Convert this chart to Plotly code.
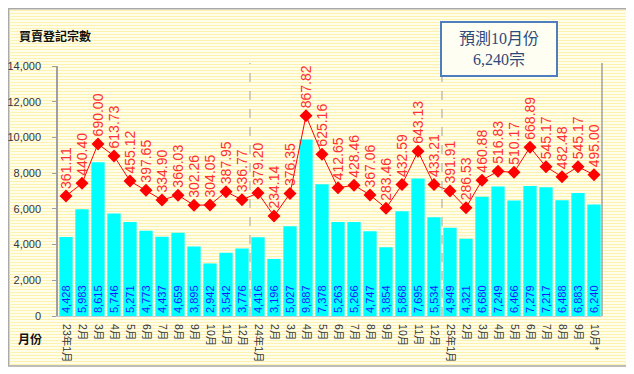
import plotly.graph_objects as go

months_2023 = ["23年1月", "2月", "3月", "4月", "5月", "6月", "7月", "8月", "9月", "10月", "11月", "12月"]
months_2024 = ["24年1月", "2月", "3月", "4月", "5月", "6月", "7月", "8月", "9月", "10月", "11月", "12月"]
months_2025 = ["25年1月", "2月", "3月", "4月", "5月", "6月", "7月", "8月", "9月", "10月*"]
tick_labels = months_2023 + months_2024 + months_2025

cases = [4428, 5983, 8615, 5746, 5271, 4773, 4437, 4659, 3895, 2942, 3542, 3776,
         4416, 3196, 5027, 9887, 7378, 5263, 5266, 4747, 3854, 5868, 7695, 5534,
         4949, 4321, 6680, 7249, 6466, 7279, 7217, 6488, 6883, 6240]
amounts = [361.11, 440.40, 690.00, 613.73, 455.12, 397.65, 334.90, 366.03, 302.26, 304.05, 387.95, 336.77,
           379.20, 234.14, 376.35, 867.82, 625.16, 412.65, 428.46, 367.06, 283.46, 432.59, 643.13, 433.21,
           391.91, 286.53, 460.88, 516.83, 510.17, 668.89, 545.17, 482.48, 545.17, 495.00]
y_ticks = [0, 2000, 4000, 6000, 8000, 10000, 12000, 14000]
year_breaks = [11.5, 23.5]

x = list(range(len(cases)))
SANS = "Liberation Sans, Arial, sans-serif"
CJK = "Liberation Sans, Noto Sans CJK TC, sans-serif"

fig = go.Figure()
fig.add_trace(go.Bar(
    x=x, y=cases, marker=dict(color="#00FFFF", line=dict(width=0)),
    texttemplate="%{y:,}", textposition="inside", insidetextanchor="start",
    textangle=-90, constraintext="none",
    textfont=dict(size=11, color="#1a1aff", family=SANS),
    hoverinfo="skip", showlegend=False,
))
fig.add_trace(go.Scatter(
    x=x, y=amounts, yaxis="y2", mode="lines+markers",
    line=dict(color="#FF0000", width=1),
    marker=dict(symbol="diamond", size=10, color="#FF0000"),
    hoverinfo="skip", showlegend=False,
))

# page has an 8px body margin: work in page pixels, convert to figure
OFF = 8
W, H = 626, 366
L, R, T, B = 58 - OFF, W - (602 - OFF), 66 - OFF, H - (316 - OFF)
pw, ph = W - L - R, H - T - B
def px_x(px):
    return (px - OFF - L) / pw
def px_y(py):
    return (H - B - (py - OFF)) / ph

shapes = []
shapes.append(dict(type="rect", xref="paper", yref="paper", layer="below",
                   x0=px_x(8.8), x1=px_x(628), y0=px_y(366), y1=px_y(8.8),
                   fillcolor="#FFFEEA", line=dict(color="#A8A8A8", width=1.5)))
py = 10
while py < 365:
    shapes.append(dict(type="line", xref="paper", yref="paper", layer="below",
                       x0=px_x(9.5), x1=px_x(627), y0=px_y(py + 0.5), y1=px_y(py + 0.5),
                       line=dict(color="#FFF2AE", width=1)))
    py += 3
for xb in year_breaks:
    shapes.append(dict(type="line", xref="x", yref="paper", x0=xb, x1=xb, y0=0, y1=1.012,
                       line=dict(color="#A0A0A0", width=1, dash="dash")))
shapes.append(dict(type="line", xref="paper", yref="paper", x0=1, x1=1, y0=0, y1=1.012,
                   line=dict(color="#A0A0A0", width=1.5)))

annotations = []
for xi, v in zip(x, amounts):
    annotations.append(dict(x=xi, y=v, xref="x", yref="y2", text=f"{v:.2f}",
                            textangle=-90, showarrow=False, yanchor="bottom", xanchor="center",
                            yshift=5, font=dict(size=14, color="#FF3030", family=SANS)))
annotations.append(dict(xref="paper", yref="paper", x=px_x(17), y=px_y(37), xanchor="left", yanchor="middle",
                        text="<b>買賣登記宗數</b>", showarrow=False,
                        font=dict(size=12, color="#111111", family=CJK)))
annotations.append(dict(xref="paper", yref="paper", x=px_x(16), y=px_y(340), xanchor="left", yanchor="middle",
                        text="<b>月份</b>", showarrow=False,
                        font=dict(size=12, color="#111111", family=CJK)))
annotations.append(dict(xref="paper", yref="paper", x=px_x(499), y=px_y(49), xanchor="center", yanchor="middle",
                        text="預測10月份<br>6,240宗", showarrow=False,
                        width=114, height=52, align="center",
                        bordercolor="#4F7EBE", borderwidth=2, borderpad=0, bgcolor="#FFFEF2",
                        font=dict(size=16, color="#2E4A7A", family="Liberation Serif, Noto Sans CJK TC, serif")))

fig.update_layout(
    width=W, height=H, autosize=False,
    margin=dict(l=L, r=R, t=T, b=B, pad=0, autoexpand=False),
    paper_bgcolor="white", plot_bgcolor="rgba(0,0,0,0)",
    bargap=0.17, showlegend=False,
    xaxis=dict(range=[-0.5, len(cases) - 0.5], tickmode="array", tickvals=x, ticktext=tick_labels,
               tickangle=90, tickfont=dict(size=10.5, color="#333333", family=CJK),
               showgrid=False, zeroline=False, showline=True, linecolor="#C8C8C8", linewidth=1,
               ticks="", fixedrange=True, automargin=False, ticklabelstandoff=5),
    yaxis=dict(range=[0, 14000], tickmode="array", tickvals=y_ticks, tickformat=",",
               tickfont=dict(size=11, color="#333344", family=SANS),
               showgrid=False, zeroline=False, showline=True, linecolor="#A0A0A0", linewidth=1.5,
               ticks="outside", ticklen=4, tickcolor="#A0A0A0", ticklabelstandoff=9,
               automargin=False),
    yaxis2=dict(range=[-397.8, 1182.2], overlaying="y", side="right", visible=False),
    shapes=shapes, annotations=annotations,
)

fig.write_html("out.html")
